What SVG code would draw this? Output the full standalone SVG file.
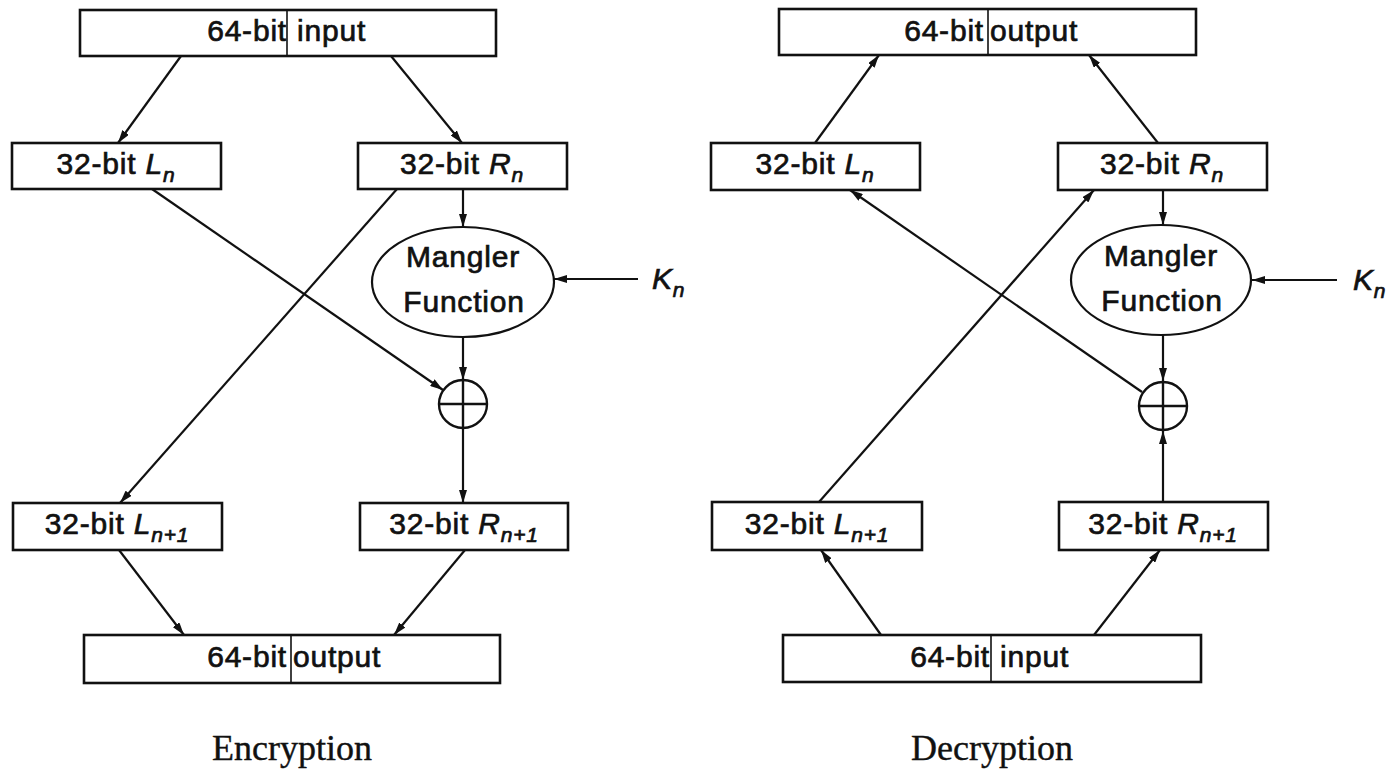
<svg xmlns="http://www.w3.org/2000/svg" width="1394" height="769" viewBox="0 0 1394 769">
<defs>
<marker id="ah" markerUnits="userSpaceOnUse" markerWidth="13" markerHeight="8" refX="13" refY="4" orient="auto">
<path d="M0,0 L13,4 L0,8 z" fill="#111"/>
</marker>
<style>
.box{fill:#fff;stroke:#111;stroke-width:2.6}
.div{stroke:#111;stroke-width:1.6}
.t{font-family:"Liberation Sans",Arial,sans-serif;font-size:30px;fill:#111;stroke:#111;stroke-width:0.7;letter-spacing:0.8px}
.i{font-style:italic}
.s{font-style:italic;font-size:21px}
.cap{font-family:"Liberation Serif","Times New Roman",serif;font-size:36px;fill:#111;stroke:#111;stroke-width:0.4;text-anchor:middle}
.c line{stroke:#111;stroke-width:2.2;marker-end:url(#ah)}
.ell{fill:#fff;stroke:#111;stroke-width:2.2}
.x{fill:#fff;stroke:#111;stroke-width:2.4}
.xl{stroke:#111;stroke-width:2.4}
</style>
</defs>
<rect width="1394" height="769" fill="#fff"/>

<g id="connectors" class="c">
<!-- encryption -->
<line x1="181" y1="56" x2="118" y2="143"/>
<line x1="391" y1="56" x2="462" y2="143"/>
<line x1="463" y1="189" x2="463" y2="227"/>
<line x1="463" y1="337" x2="463" y2="380"/>
<line x1="638" y1="279" x2="554" y2="279"/>
<line x1="152" y1="189" x2="443" y2="390"/>
<line x1="397" y1="189" x2="120" y2="503"/>
<line x1="463" y1="428" x2="463" y2="503"/>
<line x1="119" y1="550" x2="184" y2="635"/>
<line x1="465" y1="550" x2="394" y2="635"/>
<!-- decryption -->
<line x1="815" y1="143" x2="879" y2="55"/>
<line x1="1158" y1="143" x2="1089" y2="55"/>
<line x1="1163" y1="190" x2="1163" y2="225"/>
<line x1="1163" y1="335" x2="1163" y2="381"/>
<line x1="1337" y1="280" x2="1252" y2="280"/>
<line x1="1142" y1="392" x2="850" y2="190"/>
<line x1="819" y1="502" x2="1094" y2="190"/>
<line x1="1163" y1="502" x2="1163" y2="431"/>
<line x1="881" y1="635" x2="821" y2="550"/>
<line x1="1094" y1="635" x2="1160" y2="550"/>
</g>

<!-- Encryption -->
<g id="enc-input">
<rect class="box" x="80" y="10" width="416" height="46"/>
<line class="div" x1="287" y1="10" x2="287" y2="56"/>
<text class="t" x="287" y="41" text-anchor="end">64-bit</text>
<text class="t" x="297" y="41">input</text>
</g>
<g id="enc-Ln">
<rect class="box" x="12" y="143" width="209" height="46"/>
<text class="t" x="116" y="174" text-anchor="middle">32-bit <tspan class="i">L</tspan><tspan class="s" dy="8">n</tspan></text>
</g>
<g id="enc-Rn">
<rect class="box" x="358" y="143" width="209" height="46"/>
<text class="t" x="462" y="174" text-anchor="middle">32-bit <tspan class="i">R</tspan><tspan class="s" dy="8">n</tspan></text>
</g>
<g id="enc-mangler">
<ellipse class="ell" cx="463" cy="282" rx="91" ry="55"/>
<text class="t" x="463" y="267" text-anchor="middle">Mangler</text>
<text class="t" x="464" y="312" text-anchor="middle">Function</text>
</g>
<g id="enc-Kn">
<text class="t" x="652" y="289"><tspan class="i">K</tspan><tspan class="s" dy="8">n</tspan></text>
</g>
<g id="enc-xor">
<circle class="x" cx="463" cy="404" r="24"/>
<line class="xl" x1="439" y1="404" x2="487" y2="404"/>
<line class="xl" x1="463" y1="380" x2="463" y2="428"/>
</g>
<g id="enc-Ln1">
<rect class="box" x="13" y="503" width="209" height="47"/>
<text class="t" x="117" y="534" text-anchor="middle">32-bit <tspan class="i">L</tspan><tspan class="s" dy="8">n+1</tspan></text>
</g>
<g id="enc-Rn1">
<rect class="box" x="360" y="503" width="208" height="47"/>
<text class="t" x="464" y="534" text-anchor="middle">32-bit <tspan class="i">R</tspan><tspan class="s" dy="8">n+1</tspan></text>
</g>
<g id="enc-output">
<rect class="box" x="84" y="635" width="416" height="48"/>
<line class="div" x1="291" y1="635" x2="291" y2="683"/>
<text class="t" x="287" y="667" text-anchor="end">64-bit</text>
<text class="t" x="293" y="667">output</text>
</g>
<text class="cap" x="292" y="760">Encryption</text>

<!-- Decryption -->
<g id="dec-output">
<rect class="box" x="779" y="9" width="417" height="46"/>
<line class="div" x1="988" y1="9" x2="988" y2="55"/>
<text class="t" x="984" y="41" text-anchor="end">64-bit</text>
<text class="t" x="990" y="41">output</text>
</g>
<g id="dec-Ln">
<rect class="box" x="711" y="143" width="209" height="47"/>
<text class="t" x="815" y="174" text-anchor="middle">32-bit <tspan class="i">L</tspan><tspan class="s" dy="8">n</tspan></text>
</g>
<g id="dec-Rn">
<rect class="box" x="1058" y="143" width="209" height="47"/>
<text class="t" x="1162" y="174" text-anchor="middle">32-bit <tspan class="i">R</tspan><tspan class="s" dy="8">n</tspan></text>
</g>
<g id="dec-mangler">
<ellipse class="ell" cx="1161" cy="280" rx="90" ry="55"/>
<text class="t" x="1161" y="266" text-anchor="middle">Mangler</text>
<text class="t" x="1162" y="311" text-anchor="middle">Function</text>
</g>
<g id="dec-Kn">
<text class="t" x="1353" y="290"><tspan class="i">K</tspan><tspan class="s" dy="8">n</tspan></text>
</g>
<g id="dec-xor">
<circle class="x" cx="1163" cy="406" r="24"/>
<line class="xl" x1="1139" y1="406" x2="1187" y2="406"/>
<line class="xl" x1="1163" y1="382" x2="1163" y2="430"/>
</g>
<g id="dec-Ln1">
<rect class="box" x="712" y="502" width="210" height="48"/>
<text class="t" x="817" y="534" text-anchor="middle">32-bit <tspan class="i">L</tspan><tspan class="s" dy="8">n+1</tspan></text>
</g>
<g id="dec-Rn1">
<rect class="box" x="1059" y="502" width="209" height="48"/>
<text class="t" x="1163" y="534" text-anchor="middle">32-bit <tspan class="i">R</tspan><tspan class="s" dy="8">n+1</tspan></text>
</g>
<g id="dec-input">
<rect class="box" x="783" y="635" width="418" height="47"/>
<line class="div" x1="991" y1="635" x2="991" y2="682"/>
<text class="t" x="990" y="667" text-anchor="end">64-bit</text>
<text class="t" x="1000" y="667">input</text>
</g>
<text class="cap" x="992" y="760">Decryption</text>
</svg>
